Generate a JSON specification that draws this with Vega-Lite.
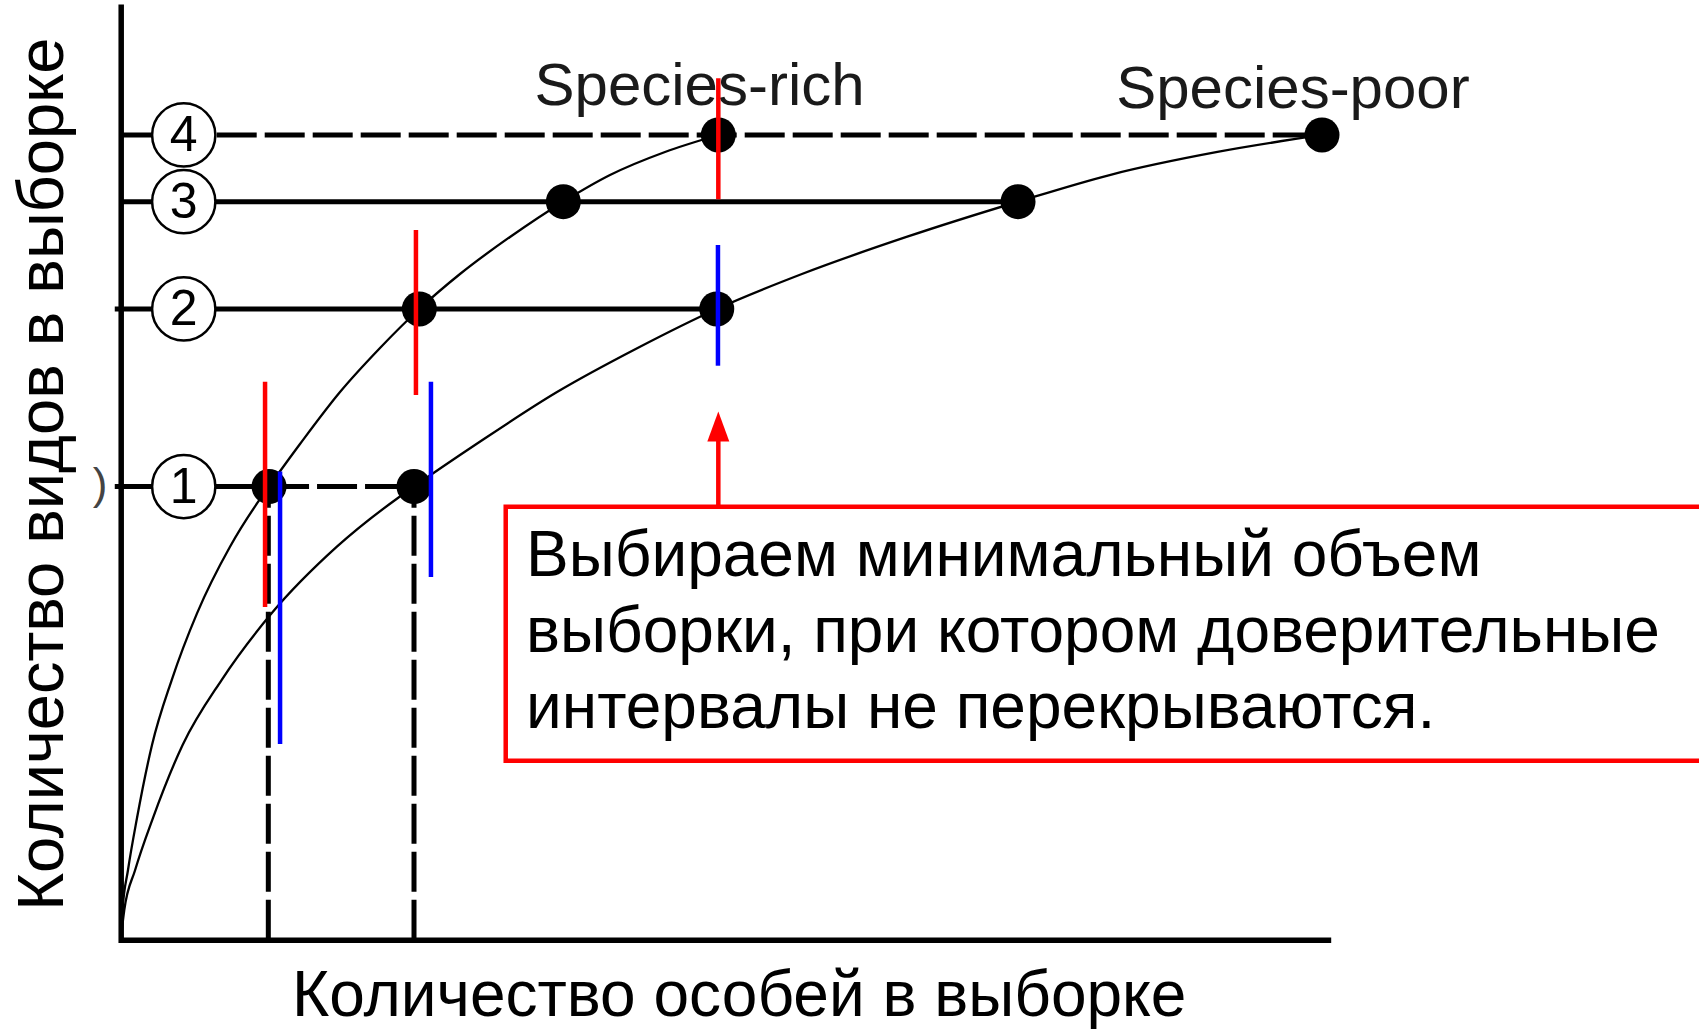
{
  "$schema": "https://vega.github.io/schema/vega-lite/v6.json",
  "width": 1210,
  "height": 933,
  "autosize": {"type": "none"},
  "padding": {"left": 120.7, "top": 6.7, "right": 368.3, "bottom": 91.3},
  "background": "white",
  "config": {"view": {"stroke": null}, "font": "Liberation Sans"},
  "datasets": {
    "levels": [
      {"x": 0, "x2": 99.28, "y": 86.25, "kind": "dash"},
      {"x": 0, "x2": 74.16, "y": 79.10, "kind": "solid"},
      {"x": -0.49, "x2": 49.26, "y": 67.60, "kind": "solid"},
      {"x": -0.49, "x2": 12.26, "y": 48.57, "kind": "solid"},
      {"x": 12.26, "x2": 24.24, "y": 48.57, "kind": "dash"}
    ],
    "vdash": [
      {"x": 12.2, "y": 0, "y2": 48.57},
      {"x": 24.24, "y": 0, "y2": 48.57}
    ],
    "curves": [
      {"series": "rich", "o": 0, "x": 0, "y": 0},
      {"series": "rich", "o": 1, "x": 0.149, "y": 3.18},
      {"series": "rich", "o": 2, "x": 0.603, "y": 7.47},
      {"series": "rich", "o": 3, "x": 1.347, "y": 13.04},
      {"series": "rich", "o": 4, "x": 2.587, "y": 20.87},
      {"series": "rich", "o": 5, "x": 4.215, "y": 27.83},
      {"series": "rich", "o": 6, "x": 6.306, "y": 34.98},
      {"series": "rich", "o": 7, "x": 9.033, "y": 42.12},
      {"series": "rich", "o": 8, "x": 11.653, "y": 47.48},
      {"series": "rich", "o": 9, "x": 12.256, "y": 48.57},
      {"series": "rich", "o": 10, "x": 14.818, "y": 53.13},
      {"series": "rich", "o": 11, "x": 18.124, "y": 58.70},
      {"series": "rich", "o": 12, "x": 21.430, "y": 63.42},
      {"series": "rich", "o": 13, "x": 24.678, "y": 67.60},
      {"series": "rich", "o": 14, "x": 28.041, "y": 71.35},
      {"series": "rich", "o": 15, "x": 32.174, "y": 75.32},
      {"series": "rich", "o": 16, "x": 36.579, "y": 79.10},
      {"series": "rich", "o": 17, "x": 40.438, "y": 81.96},
      {"series": "rich", "o": 18, "x": 44.984, "y": 84.43},
      {"series": "rich", "o": 19, "x": 49.388, "y": 86.25},
      {"series": "poor", "o": 0, "x": 0, "y": 0},
      {"series": "poor", "o": 1, "x": 0.295, "y": 3.18},
      {"series": "poor", "o": 2, "x": 1.193, "y": 7.47},
      {"series": "poor", "o": 3, "x": 2.664, "y": 13.04},
      {"series": "poor", "o": 4, "x": 5.117, "y": 20.87},
      {"series": "poor", "o": 5, "x": 8.337, "y": 27.83},
      {"series": "poor", "o": 6, "x": 12.473, "y": 34.98},
      {"series": "poor", "o": 7, "x": 17.867, "y": 42.12},
      {"series": "poor", "o": 8, "x": 23.05, "y": 47.48},
      {"series": "poor", "o": 9, "x": 24.24, "y": 48.57},
      {"series": "poor", "o": 10, "x": 29.40, "y": 53.13},
      {"series": "poor", "o": 11, "x": 36.06, "y": 58.70},
      {"series": "poor", "o": 12, "x": 42.72, "y": 63.42},
      {"series": "poor", "o": 13, "x": 49.26, "y": 67.60},
      {"series": "poor", "o": 14, "x": 56.30, "y": 71.35},
      {"series": "poor", "o": 15, "x": 64.94, "y": 75.32},
      {"series": "poor", "o": 16, "x": 74.16, "y": 79.10},
      {"series": "poor", "o": 17, "x": 81.73, "y": 81.96},
      {"series": "poor", "o": 18, "x": 90.64, "y": 84.43},
      {"series": "poor", "o": 19, "x": 99.28, "y": 86.25}
    ],
    "points": [
      {"series": "rich", "x": 12.26, "y": 48.57},
      {"series": "rich", "x": 24.68, "y": 67.60},
      {"series": "rich", "x": 36.58, "y": 79.10},
      {"series": "rich", "x": 49.39, "y": 86.25},
      {"series": "poor", "x": 24.24, "y": 48.57},
      {"series": "poor", "x": 49.26, "y": 67.60},
      {"series": "poor", "x": 74.16, "y": 79.10},
      {"series": "poor", "x": 99.28, "y": 86.25}
    ],
    "circles": [
      {"label": "1", "x": 5.21, "y": 48.57},
      {"label": "2", "x": 5.21, "y": 67.60},
      {"label": "3", "x": 5.21, "y": 79.10},
      {"label": "4", "x": 5.21, "y": 86.25}
    ],
    "ci": [
      {"color": "#ff0000", "x": 11.93, "y": 35.66, "y2": 59.81},
      {"color": "#ff0000", "x": 24.40, "y": 58.38, "y2": 76.07},
      {"color": "#ff0000", "x": 49.39, "y": 79.36, "y2": 92.33},
      {"color": "#0000ff", "x": 13.17, "y": 20.98, "y2": 50.17},
      {"color": "#0000ff", "x": 25.64, "y": 38.87, "y2": 59.81},
      {"color": "#0000ff", "x": 49.36, "y": 61.52, "y2": 74.46}
    ],
    "species": [
      {"text": "Species-rich", "x": 47.84, "y": 89.46},
      {"text": "Species-poor", "x": 96.88, "y": 89.14}
    ],
    "box": [{"x": 31.82, "x2": 132, "y": 19.19, "y2": 46.41}],
    "note": [{"x": 33.5, "y": 38.98, "text": "Выбираем минимальный объем\nвыборки, при котором доверительные\nинтервалы не перекрываются."}],
    "arrow": [{"x": 49.39, "y": 46.41, "y2": 53.8}],
    "arrowhead": [{"x": 49.39, "y": 55.0}],
    "paren": [{"x": -1.71, "y": 48.6, "text": ")"}]
  },
  "encoding": {
    "x": {
      "field": "x", "type": "quantitative",
      "scale": {"domain": [0, 100], "nice": false, "zero": false},
      "axis": {
        "domain": true, "domainColor": "black", "domainWidth": 5.5, "domainCap": "butt",
        "ticks": false, "labels": false, "grid": false,
        "title": "Количество особей в выборке",
        "titleFont": "Liberation Sans", "titleFontSize": 64, "titleFontWeight": "normal", "titleColor": "black",
        "titleX": 618, "titleY": 76, "titleBaseline": "alphabetic", "titleAlign": "center"
      }
    },
    "y": {
      "field": "y", "type": "quantitative",
      "scale": {"domain": [0, 100], "nice": false, "zero": false},
      "axis": {
        "domain": true, "domainColor": "black", "domainWidth": 5.5, "domainCap": "square",
        "ticks": false, "labels": false, "grid": false,
        "title": "Количество видов в выборке",
        "titleFont": "Liberation Sans", "titleFontSize": 65, "titleFontWeight": "normal", "titleColor": "black",
        "titleAngle": 270, "titleX": -58, "titleY": 467, "titleBaseline": "alphabetic", "titleAlign": "center"
      }
    }
  },
  "layer": [
    {
      "data": {"name": "levels"},
      "transform": [{"filter": "datum.kind === 'solid'"}],
      "mark": {"type": "rule", "color": "black", "strokeWidth": 5},
      "encoding": {"x2": {"field": "x2"}}
    },
    {
      "data": {"name": "levels"},
      "transform": [{"filter": "datum.kind === 'dash'"}],
      "mark": {"type": "rule", "color": "black", "strokeWidth": 5, "strokeDash": [40, 8]},
      "encoding": {"x2": {"field": "x2"}}
    },
    {
      "data": {"name": "vdash"},
      "mark": {"type": "rule", "color": "black", "strokeWidth": 5, "strokeDash": [40, 8]},
      "encoding": {"y2": {"field": "y2"}}
    },
    {
      "data": {"name": "curves"},
      "mark": {"type": "line", "color": "black", "strokeWidth": 2.3, "interpolate": "monotone"},
      "encoding": {"detail": {"field": "series"}, "order": {"field": "o", "type": "quantitative"}}
    },
    {
      "data": {"name": "circles"},
      "mark": {"type": "point", "shape": "circle", "size": 4000, "filled": true, "fill": "white", "stroke": "black", "strokeWidth": 2.5, "opacity": 1}
    },
    {
      "data": {"name": "circles"},
      "mark": {"type": "text", "font": "Liberation Sans", "fontSize": 50, "color": "black", "baseline": "middle", "align": "center", "dy": 1},
      "encoding": {"text": {"field": "label"}}
    },
    {
      "data": {"name": "paren"},
      "mark": {"type": "text", "font": "Liberation Sans", "fontSize": 44, "color": "#444", "baseline": "middle", "align": "center"},
      "encoding": {"text": {"field": "text"}}
    },
    {
      "data": {"name": "points"},
      "mark": {"type": "point", "shape": "circle", "size": 1225, "filled": true, "color": "black", "opacity": 1}
    },
    {
      "data": {"name": "species"},
      "mark": {"type": "text", "font": "Liberation Sans", "fontSize": 60, "color": "#1a1a1a", "baseline": "alphabetic", "align": "center"},
      "encoding": {"text": {"field": "text"}}
    },
    {
      "data": {"name": "ci"},
      "mark": {"type": "rule", "strokeWidth": 4.5},
      "encoding": {"y2": {"field": "y2"}, "color": {"field": "color", "type": "nominal", "scale": null}}
    },
    {
      "data": {"name": "box"},
      "mark": {"type": "rect", "fill": "white", "stroke": "#ff0000", "strokeWidth": 4.5},
      "encoding": {"x2": {"field": "x2"}, "y2": {"field": "y2"}}
    },
    {
      "data": {"name": "note"},
      "mark": {"type": "text", "font": "Liberation Sans", "fontSize": 64, "color": "black", "baseline": "alphabetic", "align": "left", "lineBreak": "\n", "lineHeight": 76},
      "encoding": {"text": {"field": "text"}}
    },
    {
      "data": {"name": "arrow"},
      "mark": {"type": "rule", "color": "#ff0000", "strokeWidth": 4.5},
      "encoding": {"y2": {"field": "y2"}}
    },
    {
      "data": {"name": "arrowhead"},
      "mark": {"type": "point", "shape": "M0,-1L0.733,1L-0.733,1Z", "size": 900, "filled": true, "color": "#ff0000", "opacity": 1}
    }
  ]
}
